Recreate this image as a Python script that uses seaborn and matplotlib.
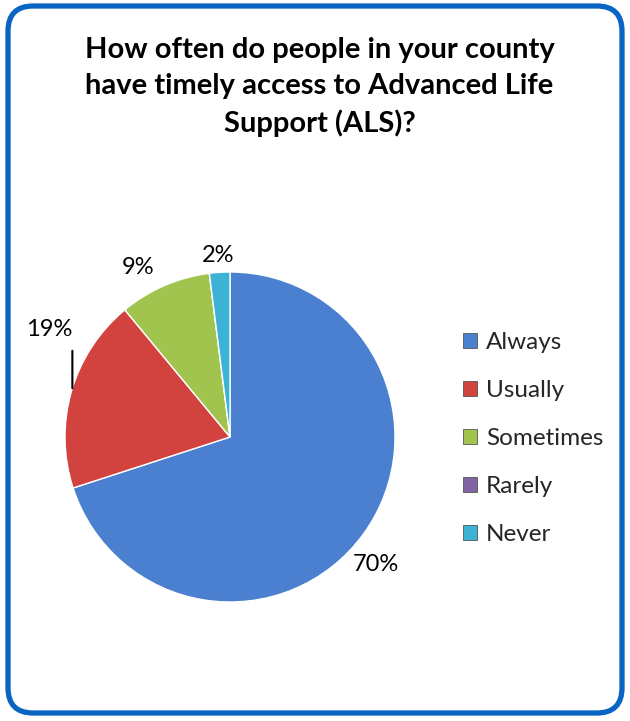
import matplotlib
matplotlib.use("Agg")
import matplotlib.pyplot as plt
import seaborn as sns
import numpy as np
from matplotlib.patches import FancyBboxPatch

categories = ["Always", "Usually", "Sometimes", "Rarely", "Never"]
values = [70, 19, 9, 0, 2]
pct_labels = ["70%", "19%", "9%", "", "2%"]
colors = ["#4a80cf", "#d2423f", "#a0c44e", "#8064a2", "#3cb3d4"]
title = "How often do people in your county\nhave timely access to Advanced Life\nSupport (ALS)?"

sns.set_theme(style="white")
plt.rcParams["font.family"] = ["Lato", "DejaVu Sans"]

W, H = 630, 721
fig = plt.figure(figsize=(W / 100, H / 100), dpi=100)
fig.patch.set_facecolor("white")

# rounded frame
frame = FancyBboxPatch((8 / W, 8 / H), (W - 16) / W, (H - 14) / H,
                       boxstyle="round,pad=0,rounding_size=0.04",
                       transform=fig.transFigure, facecolor="none",
                       edgecolor="#0a64c4", linewidth=3.8, mutation_aspect=W / H)
fig.patches.append(frame)

fig.text(0.507, 1 - 87 / H, title, ha="center", va="center", fontsize=21,
         fontweight="bold", linespacing=1.47, color="black")

cx, cy, R = 230, 437, 165
ax = fig.add_axes([(cx - R) / W, (H - cy - R) / H, 2 * R / W, 2 * R / H])
wedges, _ = ax.pie(values, colors=colors, startangle=90, counterclock=False,
                   wedgeprops=dict(edgecolor="white", linewidth=1.0))
ax.set_xlim(-1, 1)
ax.set_ylim(-1, 1)
ax.set_aspect("equal")
ax.axis("off")

# label offsets in pixels from wedge outer edge midpoint
offsets = [(12, -31), (-22, 61), (-26, 18), None, (-2, 17)]
for w, lab, off in zip(wedges, pct_labels, offsets):
    if not lab:
        continue
    ang = np.deg2rad((w.theta1 + w.theta2) / 2)
    ex, ey = np.cos(ang), np.sin(ang)
    ax.annotate(lab, xy=(ex, ey), xytext=off, textcoords="offset pixels",
                ha="center", va="center", fontsize=17, color="black",
                annotation_clip=False)
    if lab == "19%":
        ax.annotate("", xy=(ex + 0.005, ey), xytext=(ex + 0.005, ey + 43 / R),
                    arrowprops=dict(arrowstyle="-", color="black", lw=1.5),
                    annotation_clip=False)

leg = fig.legend(wedges, categories, loc="upper left",
                 bbox_to_anchor=(441 / W, 1 - 310 / H), frameon=False,
                 fontsize=17.5, handlelength=0.6, handleheight=0.6,
                 handletextpad=0.35, labelspacing=1.11)
for h in leg.legend_handles:
    h.set_edgecolor("#555555")
    h.set_linewidth(0.6)

fig.savefig("out.png", dpi=100, facecolor="white")
